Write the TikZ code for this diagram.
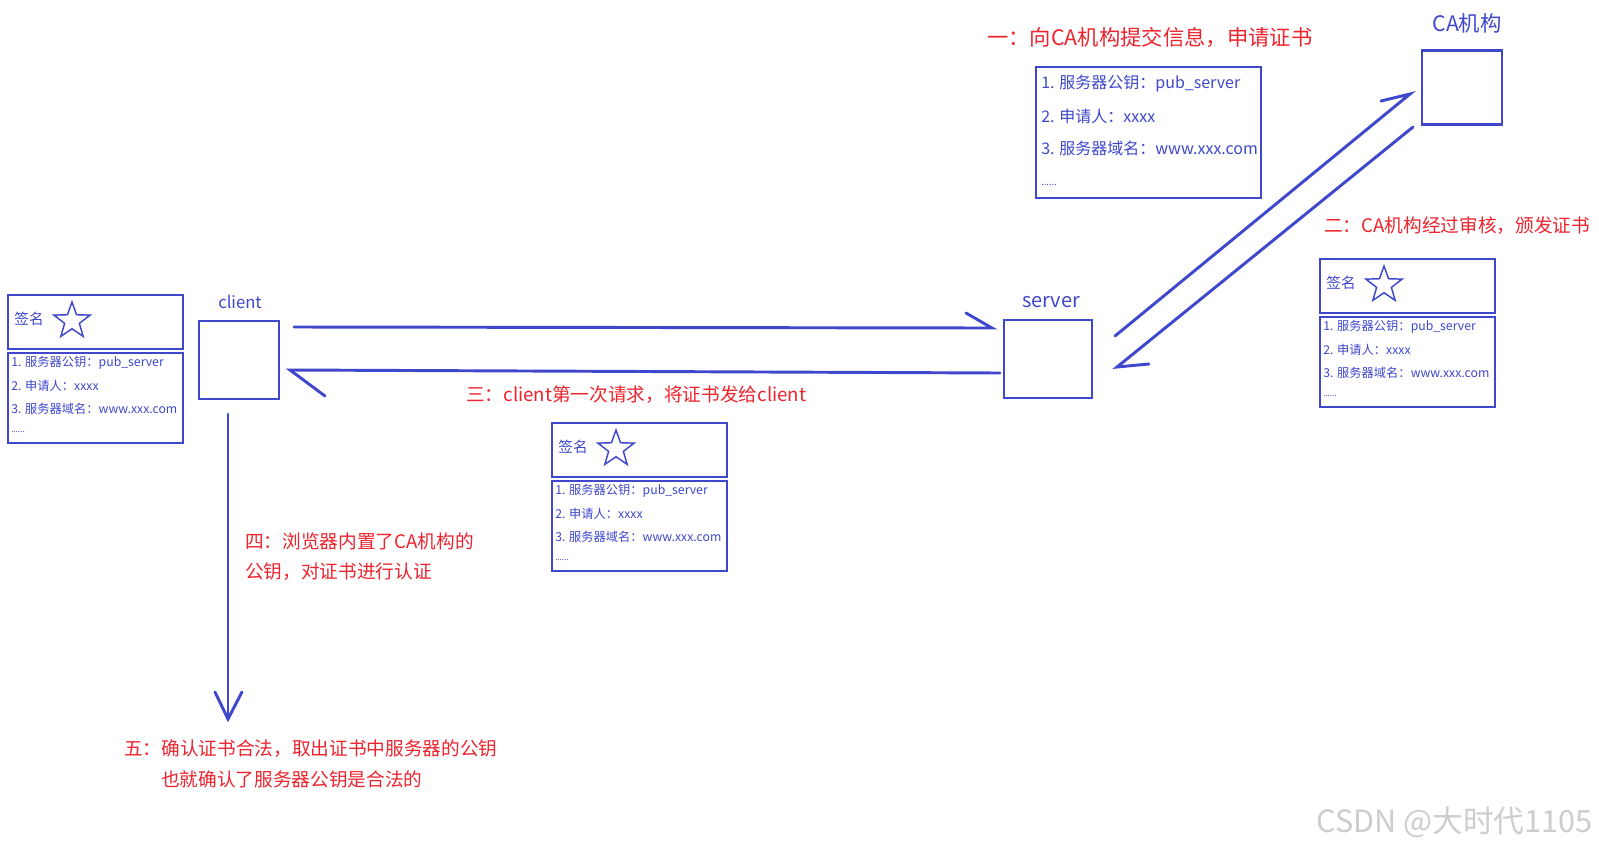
\documentclass[tikz,border=0pt]{standalone}
\usepackage{fontspec}
\setmainfont{Noto Sans CJK SC}
\usetikzlibrary{shapes.geometric}
\definecolor{pblue}{RGB}{63,72,204}
\definecolor{pred}{RGB}{237,36,46}
\definecolor{wmgray}{RGB}{205,205,205}
\tikzset{
  mainbox/.style={draw=pblue, line width=2.2pt, inner sep=0pt},
  certbox/.style={draw=pblue, line width=1.5pt, inner sep=0pt, minimum width=131.25pt},
  redtxt/.style={text=pred, font=\fontsize{14}{16}\selectfont, anchor=west, inner sep=0pt},
  bluelbl/.style={text=pblue, inner sep=0pt},
  infotxt/.style={text=pblue, font=\fontsize{12}{14}\selectfont, anchor=west, inner sep=0pt},
  certtxt/.style={text=pblue, font=\fontsize{9.2}{11}\selectfont, anchor=west, inner sep=0pt},
  signtxt/.style={text=pblue, font=\fontsize{11}{13}\selectfont, inner sep=0pt},
  sigstar/.style={star, star points=5, star point ratio=2.45, draw=pblue, line width=1.1pt, minimum size=28.5pt, inner sep=0pt},
  flow/.style={draw=pblue, line width=2.2pt, line cap=round},
}
\newcommand{\certif}[3]{%
  \node[certbox, minimum height=40.5pt, anchor=north west] (#1sig) at (#2,#3) {};
  \node[certbox, minimum height=67.5pt, anchor=north west] (#1info) at (#2,#3+58) {};
  \node[signtxt] (#1signame) at (#2+22,#3+25) {签名};
  \node[sigstar] (#1star) at (#2+65,#3+27) {};
  \node[certtxt] (#1la) at (#2+4,#3+69) {1. 服务器公钥：pub\_server};
  \node[certtxt] (#1lb) at (#2+4,#3+92) {2. 申请人：xxxx};
  \node[certtxt] (#1lc) at (#2+4,#3+115) {3. 服务器域名：www.xxx.com};
  \node[certtxt, font=\fontsize{6}{7}\selectfont] (#1ld) at (#2+4,#3+138) {......};
}
\begin{document}
\begin{tikzpicture}[x=0.75pt,y=-0.75pt]
\useasboundingbox[fill=white] (0,0) rectangle (1599,850);

% main boxes
\node[mainbox, minimum width=60pt, minimum height=55pt] (ca) at (1462,87.5) {};
\node[mainbox, minimum width=66pt, minimum height=58.5pt] (server) at (1048,359) {};
\node[mainbox, minimum width=60pt, minimum height=58.5pt] (client) at (239,360) {};

% labels
\node[bluelbl, font=\fontsize{16}{18}\selectfont] (calbl) at (1467,23.5) {CA机构};
\node[bluelbl, font=\fontsize{15}{17}\selectfont] (serverlbl) at (1051,302) {server};
\node[bluelbl, font=\fontsize{12.5}{14}\selectfont] (clientlbl) at (240,302) {client};

% submission info box
\node[mainbox, line width=1.8pt, minimum width=168.75pt, minimum height=98.25pt] (subinfo) at (1148.5,132.5) {};
\node[infotxt] (sa) at (1041,84) {1. 服务器公钥：pub\_server};
\node[infotxt] (sb) at (1041,116) {2. 申请人：xxxx};
\node[infotxt] (sc) at (1041,148) {3. 服务器域名：www.xxx.com};
\node[infotxt, font=\fontsize{7}{8}\selectfont] (sd) at (1041,185) {......};

% certificates
\certif{lc}{7}{294}
\certif{mc}{551}{422}
\certif{rc}{1319}{258}

% red step labels
\node[redtxt, font=\fontsize{16}{18}\selectfont] (step1) at (987,38) {一：向CA机构提交信息，申请证书};
\node[redtxt] (step2) at (1324,226) {二：CA机构经过审核，颁发证书};
\node[redtxt] (step3) at (466,395) {三：client第一次请求，将证书发给client};
\node[redtxt] (step4a) at (245,541.5) {四：浏览器内置了CA机构的};
\node[redtxt] (step4b) at (245,572) {公钥，对证书进行认证};
\node[redtxt] (step5a) at (124,749) {五：确认证书合法，取出证书中服务器的公钥};
\node[redtxt] (step5b) at (161,779) {也就确认了服务器公钥是合法的};

% arrow coordinates
\coordinate (a1s) at (294,327);
\coordinate (a1e) at (992,328);
\coordinate (a1b) at (966,313);
\coordinate (a2s) at (1000,373);
\coordinate (a2e) at (290,370);
\coordinate (a2b) at (325,396);
\coordinate (d1s) at (1115,336);
\coordinate (d1e) at (1410,94);
\coordinate (d1b) at (1381,101);
\coordinate (d2s) at (1413,127);
\coordinate (d2e) at (1117,367);
\coordinate (d2b) at (1149,364);
\coordinate (vs) at (228,414);
\coordinate (ve) at (228,719);
\coordinate (vbl) at (215,692);
\coordinate (vbr) at (242,692);

% arrows
\draw[flow] (a1s) -- (a1e) -- (a1b);
\draw[flow] (a2s) -- (a2e) -- (a2b);
\draw[flow] (d1s) -- (d1e) -- (d1b);
\draw[flow] (d2s) -- (d2e) -- (d2b);
\draw[flow] (vs) -- (ve);
\draw[flow] (vbl) -- (ve) -- (vbr);

% watermark
\node[text=wmgray, font=\fontsize{23}{25}\selectfont, anchor=west, inner sep=0pt] (wm) at (1316,822) {CSDN @大时代1105};
\end{tikzpicture}
\end{document}
